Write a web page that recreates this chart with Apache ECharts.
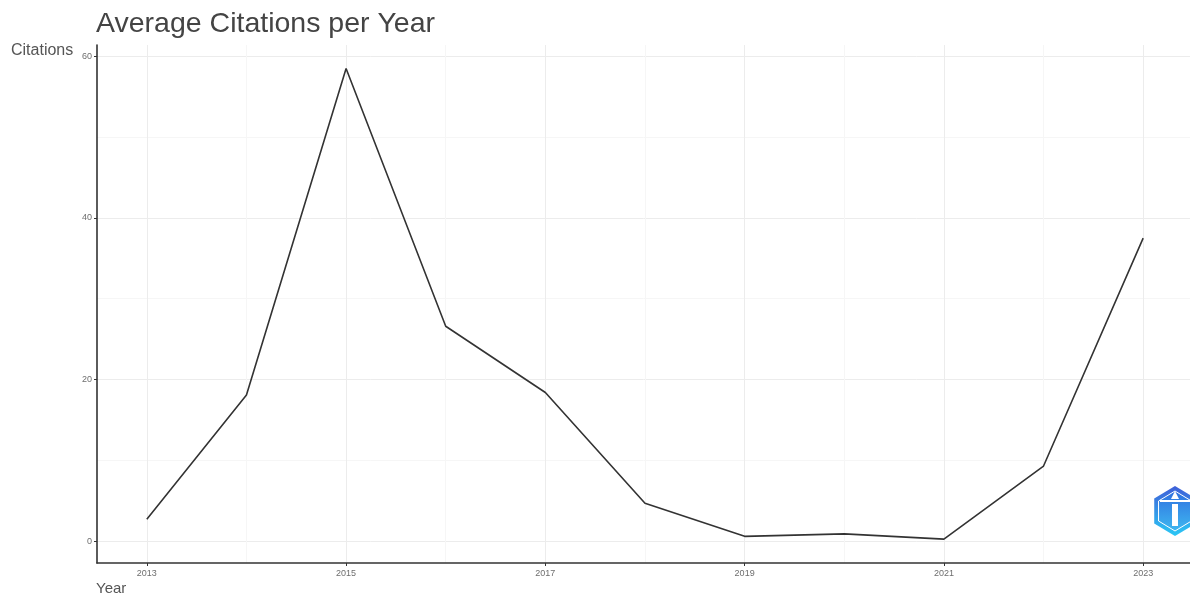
<!DOCTYPE html>
<html>
<head>
<meta charset="utf-8">
<script src="https://cdn.jsdelivr.net/npm/echarts@6/dist/echarts.min.js"></script>
<style>
html,body{margin:0;padding:0;background:#fff;}
#chart{width:1190px;height:597px;}
</style>
</head>
<body>
<div id="chart"></div>
<script>
const years = [2013, 2014, 2015, 2016, 2017, 2018, 2019, 2020, 2021, 2022, 2023];
const citations = [2.7, 18.1, 58.5, 26.6, 18.4, 4.7, 0.6, 0.9, 0.25, 9.3, 37.5];
const xMajorTicks = [2013, 2015, 2017, 2019, 2021, 2023];
const xMinorTicks = [2014, 2016, 2018, 2020, 2022];
const yMajorTicks = [0, 20, 40, 60];
const yMinorTicks = [10, 30, 50];

const chart = echarts.init(document.getElementById('chart'));
const font = 'Liberation Sans, Arial, Helvetica, sans-serif';
const xMin = 2012.5, xMax = 2023.47, yMin = -2.7, yMax = 61.4;

const hex = [];
for (let i = 0; i < 6; i++) {
  const a = Math.PI / 180 * (60 * i - 90);
  hex.push([1175 + 24 * Math.cos(a), 511 + 25 * Math.sin(a)]);
}
const hexIn = [];
for (let i = 0; i < 6; i++) {
  const a = Math.PI / 180 * (60 * i - 90);
  hexIn.push([1175 + 19 * Math.cos(a), 511 + 20 * Math.sin(a)]);
}

chart.setOption({
  animation: false,
  backgroundColor: '#ffffff',
  title: {
    text: 'Average Citations per Year',
    left: 91, top: 5,
    textStyle: {fontFamily: font, fontSize: 28.5, fontWeight: 'normal', color: '#444444'}
  },
  grid: {left: 97, right: 0, top: 45, bottom: 34, containLabel: false},
  xAxis: [
    {
      type: 'value', min: xMin, max: xMax,
      axisLine: {show: true, onZero: false, lineStyle: {color: '#333333', width: 1.6}},
      axisTick: {show: true, length: 3, customValues: xMajorTicks, lineStyle: {color: '#333333', width: 1}},
      axisLabel: {customValues: xMajorTicks, formatter: v => String(v), fontSize: 9, color: '#6e6e6e', fontFamily: font, margin: 6},
      splitLine: {show: true, lineStyle: {color: '#ececec', width: 1}}
    },
    {
      type: 'value', min: xMin, max: xMax, position: 'bottom',
      axisLine: {show: false},
      axisTick: {show: false, customValues: xMinorTicks},
      axisLabel: {show: false, customValues: xMinorTicks},
      splitLine: {show: true, lineStyle: {color: '#f6f6f6', width: 1}}
    }
  ],
  yAxis: [
    {
      type: 'value', min: yMin, max: yMax,
      axisLine: {show: true, onZero: false, lineStyle: {color: '#333333', width: 1.6}},
      axisTick: {show: true, length: 3, customValues: yMajorTicks, lineStyle: {color: '#333333', width: 1}},
      axisLabel: {customValues: yMajorTicks, fontSize: 9, color: '#6e6e6e', fontFamily: font, margin: 5},
      splitLine: {show: true, lineStyle: {color: '#ececec', width: 1}}
    },
    {
      type: 'value', min: yMin, max: yMax, position: 'left',
      axisLine: {show: false},
      axisTick: {show: false, customValues: yMinorTicks},
      axisLabel: {show: false, customValues: yMinorTicks},
      splitLine: {show: true, lineStyle: {color: '#f6f6f6', width: 1}}
    }
  ],
  series: [{
    type: 'line',
    xAxisIndex: 0, yAxisIndex: 0,
    data: years.map((y, i) => [y, citations[i]]),
    showSymbol: false,
    lineStyle: {color: '#333333', width: 1.6},
    z: 5
  }],
  graphic: [
    {type: 'text', left: 11, top: 43, style: {text: 'Citations', fontFamily: font, fontSize: 16, fill: '#555555'}},
    {type: 'text', left: 96, top: 581, style: {text: 'Year', fontFamily: font, fontSize: 15, fill: '#555555'}},
    {type: 'polygon', shape: {points: hex}, style: {
      fill: {type: 'linear', x: 0, y: 0, x2: 0, y2: 1, colorStops: [{offset: 0, color: '#3f5fd8'}, {offset: 1, color: '#2ac8f5'}]},
      stroke: 'none'}, z: 10},
    {type: 'polygon', shape: {points: hexIn}, style: {
      fill: {type: 'linear', x: 0, y: 0, x2: 0, y2: 1, colorStops: [{offset: 0, color: '#2f6fe0'}, {offset: 1, color: '#3fb8f0'}]},
      stroke: '#ffffff', lineWidth: 1}, z: 11},
    {type: 'rect', shape: {x: 1160, y: 500, width: 30, height: 2}, style: {fill: '#ffffff'}, z: 12},
    {type: 'rect', shape: {x: 1172, y: 504, width: 6, height: 22}, style: {fill: '#ffffff'}, z: 12},
    {type: 'polygon', shape: {points: [[1175, 491], [1171, 499], [1179, 499]]}, style: {fill: '#ffffff'}, z: 12}
  ]
});
</script>
</body>
</html>
